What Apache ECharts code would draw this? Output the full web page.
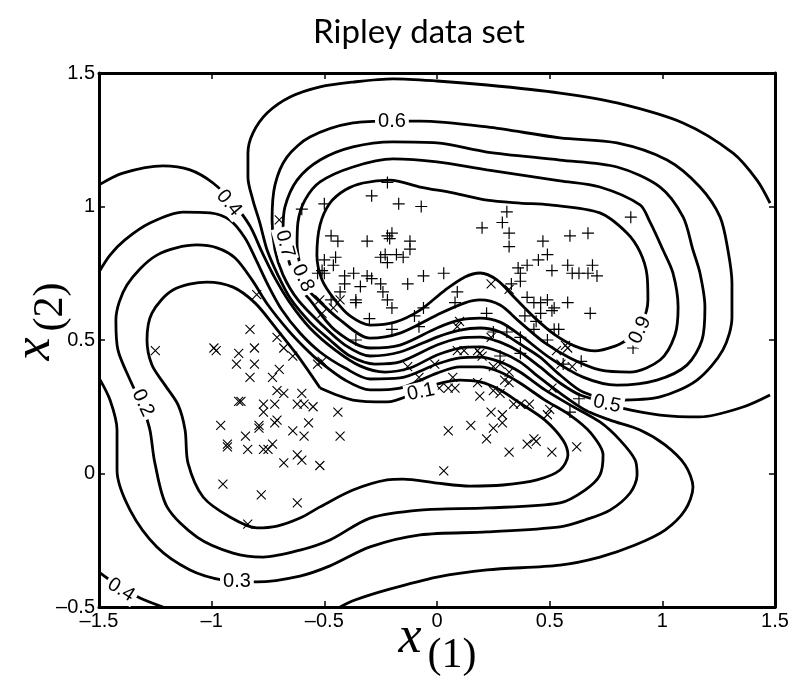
<!DOCTYPE html>
<html><head><meta charset="utf-8">
<script src="https://cdn.jsdelivr.net/npm/echarts/dist/echarts.min.js"></script>
<style>html,body{margin:0;padding:0;background:#fff}#c{width:792px;height:683px}</style>
</head><body><div id="c"></div>
<script>
// ---------- data (in data units) ----------
const titleText = 'Ripley data set';
const xMin = -1.5, xMax = 1.5, xStep = 0.5;
const yMin = -0.5, yMax = 1.5, yStep = 0.5;

// class "+" samples
const classPlus = [[-0.50,1.01],[-0.29,1.04],[-0.22,1.09],[-0.17,1.01],[-0.07,1.00],[-0.47,0.89],[-0.44,0.87],[-0.31,0.87],[-0.22,0.89],[-0.20,0.90],[-0.21,0.88],[-0.12,0.87],[0.20,0.92],[0.31,0.98],[0.29,0.94],[0.32,0.90],[0.47,0.87],[0.32,0.85],[-0.60,0.99],[0.86,0.96],[0.59,0.89],[0.67,0.90],[-0.45,0.81],[-0.46,0.78],[-0.25,0.81],[-0.23,0.82],[-0.22,0.79],[-0.18,0.82],[-0.12,0.84],[-0.15,0.81],[0.49,0.82],[0.45,0.80],[0.36,0.77],[0.40,0.78],[0.37,0.75],[0.51,0.76],[-0.51,0.76],[-0.41,0.74],[-0.37,0.75],[-0.31,0.74],[-0.29,0.73],[-0.34,0.70],[-0.25,0.71],[-0.24,0.68],[-0.41,0.71],[-0.43,0.68],[-0.47,0.65],[-0.36,0.65],[-0.36,0.64],[-0.22,0.65],[-0.20,0.62],[-0.06,0.74],[0.03,0.75],[-0.13,0.71],[0.09,0.68],[0.08,0.64],[0.22,0.60],[-0.06,0.62],[-0.10,0.59],[-0.30,0.58],[-0.20,0.54],[-0.08,0.55],[0.33,0.71],[0.37,0.72],[0.40,0.66],[0.43,0.64],[0.46,0.64],[0.49,0.65],[0.51,0.61],[0.46,0.60],[0.39,0.59],[0.44,0.57],[0.43,0.54],[0.52,0.54],[0.25,0.53],[0.31,0.53],[0.37,0.51],[0.28,0.44],[0.37,0.45],[0.49,0.50],[0.58,0.78],[0.60,0.75],[0.63,0.75],[0.67,0.75],[0.69,0.78],[0.71,0.74],[0.52,0.62],[0.58,0.64],[0.68,0.60],[0.54,0.54],[0.87,0.47],[0.64,0.42],[0.56,0.41],[0.63,0.28],[0.59,0.23],[-0.53,0.75],[-0.50,0.75],[-0.50,0.80],[-0.36,0.50]];

// class "x" samples
const classCross = [[-0.70,0.95],[-0.80,0.67],[-0.83,0.54],[-0.99,0.47],[-0.98,0.46],[-1.25,0.46],[-0.88,0.45],[-0.81,0.47],[-0.89,0.41],[-0.81,0.41],[-0.83,0.36],[-0.71,0.51],[-0.68,0.47],[-0.64,0.44],[-0.70,0.39],[-0.73,0.36],[-0.71,0.31],[-0.68,0.30],[-0.60,0.30],[-0.88,0.27],[-0.87,0.27],[-0.77,0.26],[-0.72,0.26],[-0.62,0.26],[-0.59,0.26],[-0.55,0.25],[-0.77,0.23],[-0.71,0.20],[-0.96,0.18],[-0.79,0.18],[-0.57,0.19],[-0.53,0.41],[-0.51,0.42],[-0.52,0.65],[-0.51,0.60],[-0.93,0.11],[-0.93,0.10],[-0.85,0.14],[-0.84,0.09],[-0.79,0.17],[-0.77,0.09],[-0.75,0.09],[-0.73,0.11],[-0.72,0.19],[-0.64,0.16],[-0.59,0.14],[-0.62,0.07],[-0.60,0.05],[-0.68,0.04],[-0.52,0.03],[-0.95,-0.04],[-0.78,-0.08],[-0.62,-0.11],[-0.84,-0.19],[-0.43,0.14],[0.05,0.16],[0.15,0.18],[0.25,0.17],[0.29,0.19],[0.22,0.13],[0.32,0.08],[0.40,0.11],[0.43,0.13],[0.44,0.12],[0.51,0.08],[0.03,0.01],[0.62,0.10],[0.24,0.71],[0.32,0.69],[-0.43,0.65],[-0.46,0.62],[0.10,0.57],[0.09,0.55],[0.24,0.51],[0.09,0.46],[0.12,0.46],[0.18,0.46],[0.19,0.45],[0.20,0.44],[-0.01,0.41],[-0.13,0.40],[0.25,0.40],[0.28,0.41],[0.07,0.36],[0.08,0.32],[0.05,0.32],[0.01,0.32],[0.18,0.34],[0.19,0.29],[0.25,0.31],[0.28,0.30],[0.30,0.35],[0.32,0.34],[0.34,0.26],[0.37,0.26],[0.41,0.26],[-0.44,0.23],[0.24,0.23],[0.29,0.22],[-0.08,0.36],[0.50,0.24],[0.49,0.22],[0.32,0.38],[0.53,0.46],[0.57,0.48],[0.58,0.47],[0.55,0.41],[0.60,0.40],[0.51,0.32]];

// contour lines of p(+|x), one polyline per piece
const contour09 = [[0.843,0.500],[0.790,0.477],[0.701,0.459],[0.612,0.477],[0.524,0.519],[0.435,0.582],[0.346,0.657],[0.266,0.725],[0.191,0.751],[0.124,0.736],[0.036,0.687],[-0.075,0.612],[-0.186,0.567],[-0.297,0.556],[-0.386,0.590],[-0.453,0.650],[-0.510,0.725],[-0.533,0.818],[-0.519,0.931],[-0.475,1.013],[-0.408,1.062],[-0.328,1.088],[-0.209,1.099],[-0.075,1.073],[0.071,1.051],[0.222,1.024],[0.368,1.013],[0.501,1.006],[0.723,0.976],[0.843,0.901],[0.901,0.830],[0.932,0.743],[0.936,0.650],[0.910,0.567],[0.843,0.500]];
const contour08 = [[-0.608,0.781],[-0.581,0.698],[-0.528,0.650],[-0.430,0.575],[-0.297,0.507],[-0.164,0.526],[0.000,0.594],[0.124,0.639],[0.191,0.650],[0.280,0.631],[0.368,0.567],[0.479,0.489],[0.590,0.433],[0.723,0.388],[0.857,0.380],[0.990,0.425],[1.056,0.519],[1.070,0.624],[1.047,0.751],[1.003,0.837],[0.945,0.942],[0.901,1.006],[0.723,1.073],[0.546,1.096],[0.222,1.137],[0.000,1.167],[-0.195,1.178],[-0.373,1.148],[-0.519,1.092],[-0.586,1.024],[-0.617,0.942],[-0.621,0.856],[-0.608,0.781]];
const contour07 = [[-0.675,0.856],[-0.652,0.781],[-0.617,0.706],[-0.564,0.650],[-0.453,0.537],[-0.297,0.470],[-0.164,0.481],[0.000,0.545],[0.102,0.575],[0.191,0.582],[0.280,0.567],[0.368,0.519],[0.501,0.433],[0.648,0.361],[0.799,0.331],[0.976,0.350],[1.109,0.406],[1.176,0.500],[1.189,0.624],[1.167,0.751],[1.136,0.837],[1.092,0.961],[0.990,1.073],[0.799,1.148],[0.546,1.174],[0.222,1.204],[0.000,1.238],[-0.195,1.242],[-0.373,1.223],[-0.519,1.174],[-0.621,1.099],[-0.675,0.998],[-0.683,0.912],[-0.675,0.856]];
const contour06 = [[-0.200,1.320],[-0.075,1.320],[0.222,1.298],[0.546,1.257],[0.799,1.238],[1.021,1.174],[1.167,1.073],[1.256,0.961],[1.291,0.837],[1.309,0.713],[1.309,0.586],[1.269,0.463],[1.154,0.350],[0.990,0.287],[0.799,0.275],[0.648,0.305],[0.546,0.369],[0.457,0.436],[0.368,0.485],[0.280,0.530],[0.191,0.545],[0.102,0.537],[0.000,0.511],[-0.164,0.455],[-0.297,0.440],[-0.408,0.481],[-0.510,0.556],[-0.617,0.650],[-0.683,0.743],[-0.719,0.837],[-0.732,0.949],[-0.719,1.081],[-0.666,1.185],[-0.564,1.260],[-0.373,1.313],[-0.200,1.320]];
const contour05 = [[1.478,1.013],[1.420,1.099],[1.314,1.200],[1.092,1.313],[0.799,1.388],[0.546,1.425],[0.222,1.455],[0.000,1.470],[-0.195,1.478],[-0.373,1.466],[-0.519,1.448],[-0.652,1.410],[-0.754,1.350],[-0.817,1.275],[-0.839,1.200],[-0.839,1.110],[-0.817,1.024],[-0.786,0.938],[-0.754,0.837],[-0.706,0.743],[-0.652,0.657],[-0.564,0.567],[-0.475,0.500],[-0.386,0.440],[-0.275,0.410],[-0.164,0.418],[0.000,0.481],[0.102,0.507],[0.191,0.511],[0.280,0.492],[0.368,0.455],[0.457,0.399],[0.546,0.339],[0.635,0.294],[0.759,0.264],[0.821,0.245],[0.990,0.219],[1.167,0.212],[1.358,0.249],[1.478,0.294]];
const contour04a = [[-1.500,1.081],[-1.394,1.125],[-1.216,1.152],[-1.096,1.137],[-0.994,1.088],[-0.905,1.013],[-0.830,0.927],[-0.777,0.830],[-0.719,0.732],[-0.652,0.639],[-0.564,0.545],[-0.453,0.463],[-0.342,0.403],[-0.231,0.380],[-0.120,0.395],[0.000,0.444],[0.102,0.470],[0.191,0.474],[0.280,0.455],[0.368,0.418],[0.457,0.358],[0.546,0.301],[0.657,0.238],[0.768,0.200],[0.901,0.163],[1.012,0.107],[1.101,0.032],[1.136,-0.051],[1.101,-0.137],[1.012,-0.212],[0.879,-0.268],[0.723,-0.313],[0.546,-0.343],[0.222,-0.361],[0.000,-0.388],[-0.222,-0.436],[-0.364,-0.474],[-0.430,-0.500]];
const contour04b = [[-1.500,-0.369],[-1.451,-0.399],[-1.398,-0.429],[-1.318,-0.466],[-1.216,-0.500]];
const contour03 = [[-1.500,0.755],[-1.451,0.818],[-1.385,0.875],[-1.274,0.938],[-1.127,0.979],[-1.007,0.976],[-0.919,0.949],[-0.852,0.882],[-0.803,0.800],[-0.750,0.706],[-0.688,0.612],[-0.608,0.526],[-0.519,0.455],[-0.408,0.395],[-0.297,0.354],[-0.164,0.358],[0.000,0.410],[0.102,0.433],[0.191,0.436],[0.280,0.418],[0.368,0.380],[0.479,0.313],[0.590,0.257],[0.723,0.193],[0.812,0.125],[0.879,0.051],[0.888,-0.006],[0.857,-0.073],[0.768,-0.137],[0.657,-0.174],[0.546,-0.200],[0.222,-0.219],[-0.075,-0.230],[-0.297,-0.275],[-0.475,-0.346],[-0.608,-0.384],[-0.799,-0.406],[-0.950,-0.399],[-1.096,-0.361],[-1.243,-0.275],[-1.362,-0.137],[-1.420,0.013],[-1.420,0.163],[-1.451,0.275],[-1.500,0.358]];
const contour02 = [[-1.305,0.249],[-1.362,0.350],[-1.416,0.463],[-1.425,0.575],[-1.376,0.706],[-1.243,0.818],[-1.065,0.856],[-0.976,0.845],[-0.896,0.807],[-0.821,0.725],[-0.750,0.631],[-0.661,0.537],[-0.586,0.470],[-0.519,0.418],[-0.408,0.350],[-0.297,0.313],[-0.164,0.320],[0.000,0.376],[0.102,0.399],[0.191,0.399],[0.280,0.380],[0.368,0.339],[0.479,0.275],[0.590,0.219],[0.679,0.155],[0.737,0.069],[0.723,-0.006],[0.657,-0.062],[0.546,-0.110],[0.222,-0.129],[-0.075,-0.137],[-0.297,-0.167],[-0.475,-0.249],[-0.608,-0.287],[-0.772,-0.313],[-0.905,-0.298],[-1.065,-0.238],[-1.198,-0.125],[-1.252,0.039],[-1.274,0.163],[-1.305,0.249]];
const contour01 = [[-0.519,0.320],[-0.373,0.275],[-0.222,0.268],[-0.089,0.305],[0.000,0.335],[0.102,0.350],[0.191,0.343],[0.280,0.313],[0.368,0.264],[0.479,0.200],[0.559,0.125],[0.581,0.069],[0.546,0.013],[0.444,-0.024],[0.293,-0.043],[0.146,-0.047],[0.000,-0.036],[-0.151,-0.021],[-0.222,-0.024],[-0.373,-0.062],[-0.519,-0.125],[-0.608,-0.167],[-0.710,-0.197],[-0.799,-0.204],[-0.919,-0.163],[-1.038,-0.088],[-1.105,0.039],[-1.118,0.163],[-1.149,0.257],[-1.207,0.331],[-1.265,0.406],[-1.287,0.500],[-1.265,0.601],[-1.172,0.687],[-1.021,0.717],[-0.905,0.698],[-0.808,0.639],[-0.719,0.549],[-0.621,0.444],[-0.519,0.320]];

// contour label text, anchor (data units) and text angle (deg)
const labelText = ['0.6','0.4','0.7','0.8','0.9','0.5','0.1','0.2','0.3','0.4'];
const labelPos  = [[-0.200,1.317],[-0.923,1.013],[-0.675,0.860],[-0.595,0.732],[0.901,0.537],[0.754,0.260],[-0.071,0.305],[-1.305,0.264],[-0.888,-0.406],[-1.402,-0.436]];
const labelRot  = [0,-50,-75,-65,65,-12,12,-65,0,-32];

// ---------- chart ----------
const contours = [contour01, contour02, contour03, contour04a, contour04b, contour05, contour06, contour07, contour08, contour09];
const fmt = v => (v < 0 ? '\u2013' + String(-v) : String(v));
const PLUS = 'path://M5,0L5,10M0,5L10,5';
const CROSS = 'path://M0,0L10,10M10,0L0,10';
const SANS = "'Liberation Sans', Arial, Helvetica, sans-serif";

const chart = echarts.init(document.getElementById('c'), null, {renderer: 'canvas'});
const axisCommon = {
  type: 'value', splitLine: {show: false},
  axisLine: {show: true, onZero: false, lineStyle: {color: '#000', width: 3}},
  axisTick: {show: true, inside: true, length: 6, lineStyle: {color: '#000', width: 1.5}}
};
const tickLabel = (m) => ({show: true, formatter: fmt, margin: m, color: '#000', fontSize: 20, fontFamily: SANS});
const textStyle = (font) => ({font: font, fill: '#000', align: 'center', verticalAlign: 'middle', textAlign: 'center', textVerticalAlign: 'middle'});
chart.setOption({
  animation: false,
  backgroundColor: '#fff',
  title: {text: titleText, left: 414, top: 11, textAlign: 'center',
          textStyle: {fontFamily: 'Lato', fontWeight: 'normal', fontSize: 33, color: '#000'}},
  grid: {left: 99, top: 73, right: 17, bottom: 76, containLabel: false},
  xAxis: [
    Object.assign({}, axisCommon, {min: xMin, max: xMax, interval: xStep, position: 'bottom', axisLabel: tickLabel(4)}),
    Object.assign({}, axisCommon, {min: xMin, max: xMax, interval: xStep, position: 'top', axisLabel: {show: false}})
  ],
  yAxis: [
    Object.assign({}, axisCommon, {min: yMin, max: yMax, interval: yStep, position: 'left', axisLabel: tickLabel(4)}),
    Object.assign({}, axisCommon, {min: yMin, max: yMax, interval: yStep, position: 'right', axisLabel: {show: false}})
  ],
  graphic: [
    {type: 'text', x: 410, y: 638, style: textStyle('italic 52px "Liberation Serif"')},
    {type: 'text', x: 452, y: 656, style: textStyle('42px "Liberation Serif"')},
    {type: 'text', x: 35, y: 349, rotation: Math.PI / 2, style: textStyle('italic 52px "Liberation Serif"')},
    {type: 'text', x: 51, y: 307, rotation: Math.PI / 2, style: textStyle('42px "Liberation Serif"')}
  ].map((g, i) => { g.style.text = ['x', '(1)', 'x', '(2)'][i]; return g; }),
  series: contours.map(d => ({
    type: 'line', data: d, showSymbol: false, smooth: 0.3, silent: true, z: 2,
    lineStyle: {color: '#000', width: 2.8, opacity: 1}
  })).concat([
    {type: 'scatter', data: classPlus, symbol: PLUS, symbolSize: 12, silent: true, z: 3,
     itemStyle: {color: 'rgba(0,0,0,0)', borderColor: '#000', borderWidth: 1.2, opacity: 1}},
    {type: 'scatter', data: classCross, symbol: CROSS, symbolSize: 9, silent: true, z: 3,
     itemStyle: {color: 'rgba(0,0,0,0)', borderColor: '#000', borderWidth: 1.1, opacity: 1}},
    {type: 'scatter', symbolSize: 1, silent: true, z: 5, itemStyle: {color: 'rgba(0,0,0,0)', opacity: 1},
     data: labelPos.map((p, i) => ({value: p, label: {formatter: labelText[i], rotate: labelRot[i]}})),
     label: {show: true, position: 'inside', fontSize: 20, fontFamily: SANS, color: '#000', opacity: 1,
             textBorderWidth: 0, backgroundColor: '#fff', padding: [0, 3]}}
  ])
});
</script></body></html>
